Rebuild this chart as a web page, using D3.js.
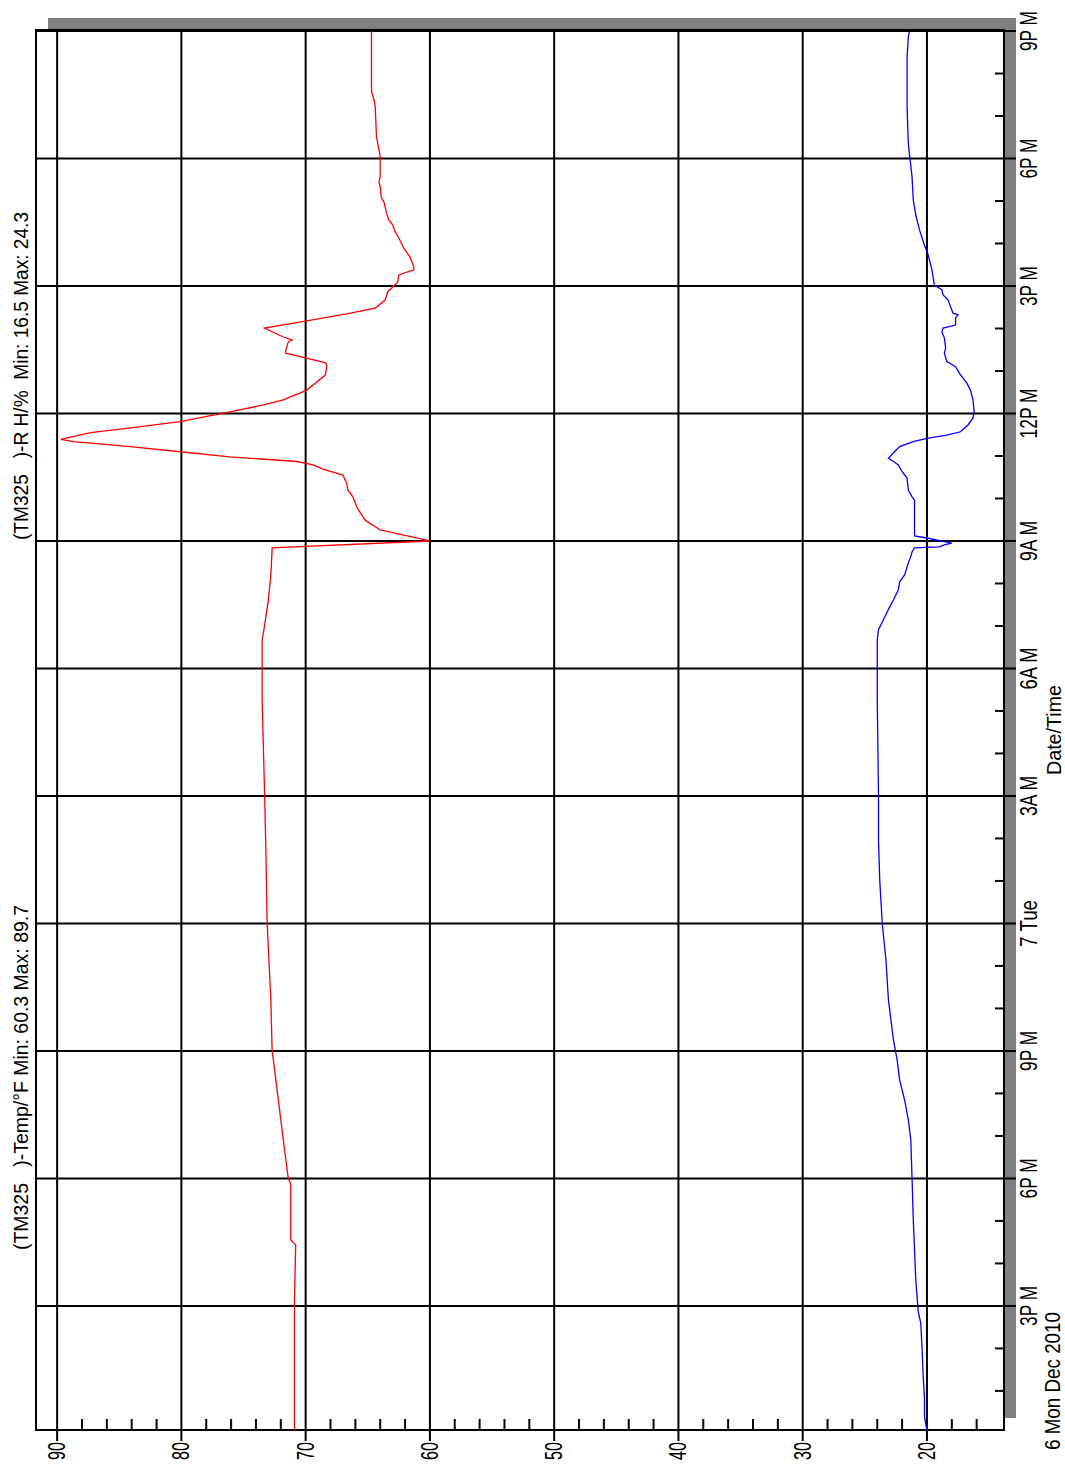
<!DOCTYPE html>
<html>
<head>
<meta http-equiv="Content-Type" content="text/html;charset=utf-8">
<script type="text/javascript" src="https://cdn.jsdelivr.net/npm/d3@7"></script>
<style>
  body { margin: 0; background: #fff; }
  text { font-family: 'Liberation Sans Narrow', 'Liberation Sans', Arial, sans-serif; fill: #000; white-space: pre; }
</style>
</head>
<body>
<div id="chart"></div>
<script type="text/javascript">

// hours counted from 6 Dec 2010 00:00
var tempHours = [12.08, 15.14, 16.44, 16.55, 17.85, 18.01, 18.67, 19.38, 20.08, 20.79, 21.02, 22.2, 24.01, 25.73, 27.0, 29.26, 30.67, 31.02, 31.61, 32.2, 32.79, 32.84,
  33.0, 33.26, 33.49, 33.66, 33.81, 34.04, 34.2, 34.36, 34.55, 34.69, 34.79, 34.87, 34.98, 35.10, 35.22, 35.34, 35.39, 35.55, 35.66, 35.81, 36.04, 36.2, 36.32, 36.55,
  36.91, 37.14, 37.19, 37.31, 37.42, 37.49, 37.68, 37.73, 37.8, 38.01, 38.18, 38.36, 38.48, 38.67, 38.86, 39.09, 39.26, 39.38, 39.45, 39.68, 39.85, 39.89, 40.13, 40.28,
  40.44, 40.55, 40.72, 40.98, 41.07, 41.34, 41.45, 41.57, 42.04, 42.36, 42.51, 43.22, 43.38, 43.57, 45.0];
var tempValues = [70.9, 70.9, 70.8, 71.2, 71.2, 71.4, 71.7, 72.0, 72.3, 72.6, 72.7, 72.8, 73.1, 73.2, 73.3, 73.5, 73.5, 73.3, 73.0, 72.8, 72.7, 72.7,
  60.0, 64.0, 65.2, 65.6, 65.9, 66.2, 66.6, 66.7, 67.0, 68.6, 69.4, 70.7, 76.1, 80.1, 84.1, 88.7, 89.7, 87.3, 84.1, 80.1, 76.1, 73.4, 71.8, 69.9,
  68.4, 68.3, 68.4, 70.0, 71.6, 71.6, 71.4, 71.1, 71.8, 73.3, 69.9, 66.4, 64.4, 63.6, 63.4, 62.6, 62.5, 61.3, 61.3, 61.6, 62.0, 62.1, 62.5, 62.8,
  63.0, 63.3, 63.5, 63.7, 63.9, 64.0, 64.1, 64.0, 64.0, 64.2, 64.3, 64.4, 64.5, 64.7, 64.7];

var rhHours = [12.08, 12.39, 12.84, 13.33, 14.04, 14.6, 14.86, 15.61, 16.32, 17.02, 18.01, 18.91, 19.38, 19.85, 20.32, 20.79, 21.26, 22.2, 23.14, 24.01, 25.02, 25.96,
  27.0, 29.26, 30.67, 30.91, 31.21, 31.45, 31.61, 31.85, 32.04, 32.2, 32.48, 32.55, 32.74, 32.84, 32.86, 32.91, 32.95, 33.07, 33.12, 33.96, 34.04, 34.2, 34.48, 34.63,
  34.79, 34.87, 34.95, 35.07, 35.22, 35.34, 35.42, 35.49, 35.57, 35.73, 35.89, 36.04, 36.32, 36.55, 36.72, 36.91, 37.10, 37.22, 37.42, 37.54, 37.78, 37.92, 38.01,
  38.08, 38.25, 38.32, 38.36, 38.51, 38.67, 38.79, 38.91, 39.02, 39.38, 39.73, 39.96, 40.32, 40.67, 41.02, 41.57, 42.08, 42.36, 43.22, 44.39, 44.86, 45.0];
var rhValues = [20.0, 20.2, 20.2, 20.3, 20.4, 20.5, 20.7, 20.9, 21.0, 21.1, 21.2, 21.3, 21.5, 21.8, 22.2, 22.4, 22.7, 23.1, 23.3, 23.6, 23.8, 23.9,
  23.9, 24.0, 24.0, 23.9, 23.4, 23.0, 22.7, 22.3, 22.2, 21.8, 21.5, 21.4, 21.2, 21.0, 19.0, 18.6, 18.0, 20.0, 21.0, 21.0, 21.2, 21.5, 21.6, 22.0,
  22.3, 22.7, 23.1, 22.7, 22.2, 21.1, 19.9, 18.4, 17.3, 16.7, 16.3, 16.2, 16.3, 16.5, 16.8, 17.3, 17.7, 18.4, 18.6, 18.5, 18.6, 18.8, 18.7,
  17.7, 17.7, 17.5, 17.9, 18.1, 18.3, 18.7, 18.8, 19.4, 19.6, 19.9, 20.2, 20.6, 20.9, 21.1, 21.2, 21.4, 21.5, 21.6, 21.6, 21.5, 21.4];

var valueTicks = [90, 80, 70, 60, 50, 40, 30, 20];
var valueMinor = [88, 86, 84, 82, 78, 76, 74, 72, 68, 66, 64, 62, 58, 56, 54, 52, 48, 46, 44, 42, 38, 36, 34, 32, 28, 26, 24, 22, 18, 16];
var timeTicks = [15, 18, 21, 24, 27, 30, 33, 36, 39, 42, 45];
var timeLabels = ["3P M", "6P M", "9P M", "7 Tue", "3A M", "6A M", "9A M", "12P M", "3P M", "6P M", "9P M"];
var timeLabelLen = [40, 40, 40, 47, 40, 42, 40, 50, 40, 40, 40];
var timeMinor = [13, 14, 16, 17, 19, 20, 22, 23, 25, 26, 28, 29, 31, 32, 34, 35, 37, 38, 40, 41, 43, 44];

var base = new Date(2010, 11, 6);
function toDate(h) { return new Date(base.getTime() + h * 3600000); }

var W = 1065, H = 1466;
var pL = 36, pT = 30, pR = 1004, pB = 1430;

var svg = d3.select("#chart").append("svg")
    .attr("width", W)
    .attr("height", H);

// chart is drawn turned on its side: values run across, time runs up
var x = d3.scaleLinear().domain([91.7, 13.8]).range([pL, pR]);
var y = d3.scaleTime().domain([toDate(12.08), toDate(45.024)]).range([pB, pT]);

// shadow + plot area
svg.append("rect").attr("x", pL + 12).attr("y", pT - 12)
    .attr("width", pR - pL).attr("height", pB - pT)
    .attr("fill", "#808080");
svg.append("rect").attr("x", pL).attr("y", pT)
    .attr("width", pR - pL).attr("height", pB - pT)
    .attr("fill", "#fff");

// value grid + ticks
svg.append("g").selectAll("line").data(valueTicks).enter().append("line")
    .attr("x1", function (d) { return x(d); }).attr("x2", function (d) { return x(d); })
    .attr("y1", pT).attr("y2", pB + 11)
    .attr("stroke", "#000").attr("stroke-width", 2);
svg.append("g").selectAll("line").data(valueMinor).enter().append("line")
    .attr("x1", function (d) { return x(d); }).attr("x2", function (d) { return x(d); })
    .attr("y1", pB - 11).attr("y2", pB)
    .attr("stroke", "#000").attr("stroke-width", 2);

// time grid + ticks
svg.append("g").selectAll("line").data(timeTicks).enter().append("line")
    .attr("y1", function (d) { return y(toDate(d)); }).attr("y2", function (d) { return y(toDate(d)); })
    .attr("x1", pL).attr("x2", pR + 12)
    .attr("stroke", "#000").attr("stroke-width", 2);
svg.append("g").selectAll("line").data(timeMinor).enter().append("line")
    .attr("y1", function (d) { return y(toDate(d)); }).attr("y2", function (d) { return y(toDate(d)); })
    .attr("x1", pR - 9).attr("x2", pR)
    .attr("stroke", "#000").attr("stroke-width", 2);

// frame
svg.append("rect").attr("x", pL).attr("y", pT)
    .attr("width", pR - pL).attr("height", pB - pT)
    .attr("fill", "none").attr("stroke", "#000").attr("stroke-width", 2);

// series
var line = d3.line()
    .x(function (d) { return x(d.v); })
    .y(function (d) { return y(d.t); });

var temp = tempHours.map(function (h, i) { return { t: toDate(h), v: tempValues[i] }; });
var rh = rhHours.map(function (h, i) { return { t: toDate(h), v: rhValues[i] }; });

svg.append("path").datum(temp).attr("d", line)
    .attr("fill", "none").attr("stroke", "#ff0000").attr("stroke-width", 1.3);
svg.append("path").datum(rh).attr("d", line)
    .attr("fill", "none").attr("stroke", "#0000ff").attr("stroke-width", 1.3);

// labels (all turned -90)
function vtext(px, py, str, size, anchor, len) {
  svg.append("text")
    .attr("transform", "translate(" + px + "," + py + ") rotate(-90)")
    .attr("text-anchor", anchor)
    .attr("font-size", size)
    .attr("textLength", len)
    .attr("lengthAdjust", "spacingAndGlyphs")
    .text(str);
}

valueTicks.forEach(function (d) {
  vtext(x(d) + 8, pB + 12, String(d), 23, "end", 18);
});
timeTicks.forEach(function (d, i) {
  vtext(1037, y(toDate(d)), timeLabels[i], 23, "middle", timeLabelLen[i]);
});

vtext(1061, (pT + pB) / 2, "Date/Time", 21, "middle", 90);
vtext(1060, 1381, "6 Mon Dec 2010", 22, "middle", 138);
vtext(28, 1077.5, "(TM325   )-Temp/\u00b0F Min: 60.3 Max: 89.7", 20, "middle", 345);
vtext(28, 376, "(TM325   )-R H/%  Min: 16.5 Max: 24.3", 20, "middle", 328);

</script>
</body>
</html>
